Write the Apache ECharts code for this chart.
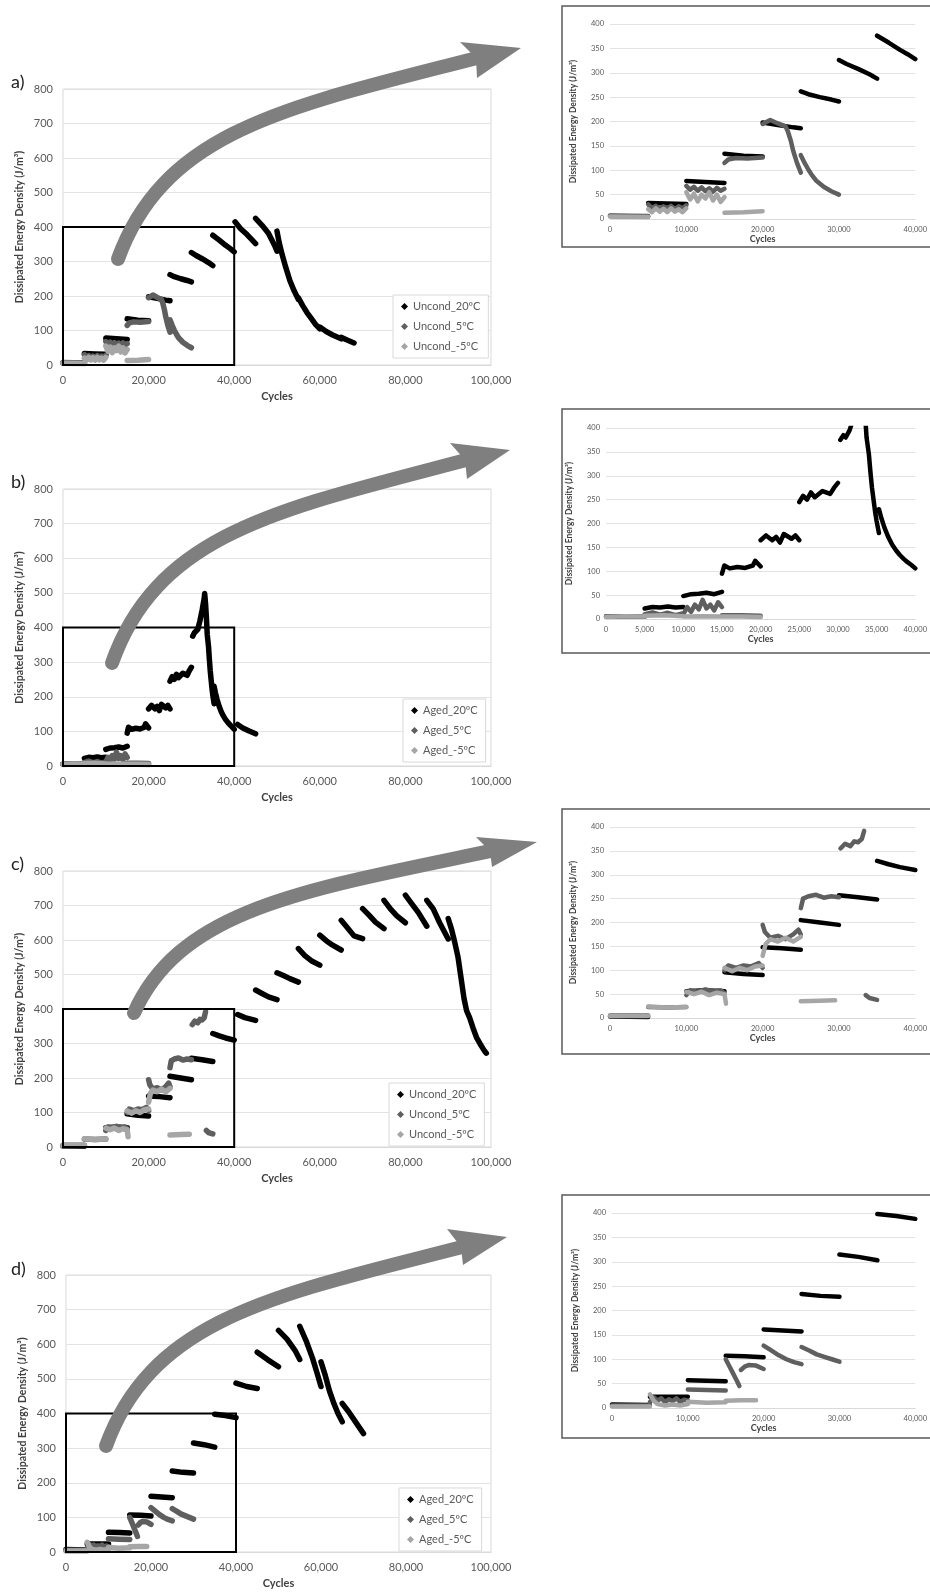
<!DOCTYPE html>
<html lang="en">
<head>
    <meta charset="UTF-8">
    <title>Dissipated Energy Density</title>
    <script src="https://cdn.jsdelivr.net/npm/echarts@6/dist/echarts.min.js"></script>
    <style>
        html, body { margin: 0; padding: 0; background: #fff; }
        #main { width: 930px; height: 1595px; }
    </style>
</head>
<body>
<div id="main"></div>
<script>
    // each series is a list of segments: [cycles, energy]
    var a20 = [
        [[0, 6], [5000, 5]],
        [[5000, 33], [7500, 32], [10000, 31]],
        [[10000, 78], [12500, 76], [15000, 74]],
        [[15000, 134], [17500, 130], [20000, 128]],
        [[20000, 198], [22000, 193], [24000, 188], [25000, 186]],
        [[25000, 262], [26000, 256], [27500, 250], [29000, 245], [30000, 241]],
        [[30000, 326], [31000, 318], [32500, 308], [34000, 297], [35000, 288]],
        [[35000, 376], [36500, 362], [38000, 347], [39000, 338], [40000, 328]],
        [[40200, 415], [41500, 395], [43000, 378], [45000, 352]],
        [[45000, 425], [46500, 405], [48000, 382], [49500, 345], [50000, 330]],
        [[50000, 388], [50500, 355], [51200, 320], [52000, 285], [53000, 245], [54000, 215], [55000, 190]],
        [[55000, 195], [56000, 172], [57000, 152], [58000, 135], [59000, 118], [60000, 105]],
        [[60000, 110], [61500, 97], [63000, 87], [65000, 76]],
        [[65000, 80], [66500, 72], [68000, 64]]
    ];
    var a5 = [
        [[0, 7], [5000, 6]],
        [[5000, 30], [5500, 22], [6000, 27], [6500, 20], [7000, 26], [7500, 21], [8000, 27], [8500, 20], [9000, 26], [9500, 22], [10000, 28]],
        [[10000, 68], [10500, 60], [11000, 66], [11500, 58], [12000, 65], [12500, 57], [13000, 63], [13500, 56], [14000, 64], [14500, 58], [15000, 62]],
        [[15000, 115], [15500, 122], [16500, 125], [18000, 124], [20000, 126]],
        [[20000, 195], [21000, 203], [22000, 196], [23000, 190], [23300, 180], [23700, 160], [24000, 140], [24500, 115], [25000, 95]],
        [[25000, 131], [25500, 115], [26000, 101], [26500, 89], [27000, 79], [28000, 66], [29000, 57], [30000, 50]]
    ];
    var aM5 = [
        [[0, 5], [5000, 4]],
        [[5000, 20], [5500, 14], [6000, 22], [6500, 15], [7000, 21], [7500, 14], [8000, 22], [8500, 15], [9000, 20], [9500, 14], [10000, 22]],
        [[10000, 55], [10500, 40], [11000, 52], [11500, 36], [12000, 50], [12500, 42], [13000, 55], [13500, 38], [14000, 50], [14500, 35], [15000, 45]],
        [[15000, 13], [17500, 14], [20000, 16]]
    ];

    var b20 = [
        [[0, 5], [5000, 5]],
        [[5000, 22], [6000, 25], [7000, 24], [8000, 26], [9000, 24], [10000, 25]],
        [[10000, 48], [11000, 52], [12000, 53], [13000, 55], [14000, 52], [15000, 57]],
        [[15000, 95], [15300, 112], [16000, 106], [17000, 109], [18000, 107], [19000, 112], [19300, 122], [20000, 110]],
        [[20000, 165], [20700, 175], [21500, 165], [22000, 172], [22500, 160], [23000, 178], [24000, 168], [24500, 175], [25000, 165]],
        [[25000, 245], [25500, 258], [26000, 250], [26500, 265], [27000, 255], [28000, 268], [29000, 262], [29500, 275], [30000, 285]],
        [[30300, 375], [30700, 385], [31000, 380], [31500, 395], [32000, 420], [32500, 450], [33000, 485], [33100, 498], [33300, 470], [33500, 430], [33700, 380], [34000, 345], [34200, 308], [34400, 275], [34600, 250], [34800, 225], [35000, 205], [35300, 180]],
        [[35300, 230], [35600, 212], [36000, 192], [36500, 172], [37000, 156], [37500, 144], [38000, 134], [38500, 126], [39000, 119], [39500, 113], [40000, 106]],
        [[40800, 120], [42000, 110], [43500, 101], [45000, 93]]
    ];
    var b5 = [
        [[0, 6], [5000, 5]],
        [[5000, 10], [6000, 14], [7000, 9], [8000, 13], [9000, 8], [10000, 12]],
        [[10000, 10], [10500, 25], [11000, 15], [11500, 30], [12000, 20], [12500, 40], [13000, 22], [13500, 30], [14000, 18], [14500, 35], [15000, 25]],
        [[15000, 8], [17500, 8], [20000, 7]]
    ];
    var bM5 = [
        [[0, 4], [2500, 6], [5000, 5]],
        [[5000, 7], [7500, 8], [10000, 6]],
        [[10000, 5], [12500, 6], [15000, 5]],
        [[15000, 5], [17500, 5], [20000, 4]]
    ];

    var c20 = [
        [[0, 3], [5000, 2]],
        [[10000, 56], [12500, 58], [15000, 56]],
        [[15000, 96], [17500, 92], [20000, 90]],
        [[20000, 148], [22500, 146], [25000, 143]],
        [[25000, 205], [27500, 200], [30000, 195]],
        [[30000, 257], [32500, 253], [35000, 248]],
        [[35000, 329], [36500, 322], [38000, 316], [40000, 310]],
        [[40800, 384], [42500, 375], [45000, 367]],
        [[45000, 455], [46500, 445], [48000, 435], [50000, 427]],
        [[50000, 505], [51500, 497], [53000, 488], [55000, 478]],
        [[55000, 575], [56500, 555], [58000, 540], [60000, 527]],
        [[60000, 614], [61500, 598], [63000, 585], [65000, 571]],
        [[65000, 657], [66500, 635], [68000, 612], [70000, 604]],
        [[70000, 691], [71500, 672], [73000, 652], [75000, 633]],
        [[75000, 715], [76500, 690], [78000, 670], [80000, 650]],
        [[80000, 730], [81500, 705], [83000, 680], [85000, 640]],
        [[85000, 715], [86500, 690], [88000, 650], [90000, 603]],
        [[90000, 662], [90800, 630], [91500, 595], [92300, 550], [93000, 490], [93700, 430], [94300, 395], [95000, 375], [95800, 345], [96600, 318], [97500, 298], [98500, 278], [98900, 272]]
    ];
    var c5 = [
        [[0, 5], [5000, 5]],
        [[5000, 23], [7500, 22], [10000, 23]],
        [[10000, 48], [10500, 58], [11500, 55], [12500, 60], [13500, 56], [14500, 58], [15000, 52]],
        [[15000, 100], [15500, 110], [16500, 105], [17500, 110], [18500, 108], [19500, 115], [20000, 105]],
        [[20000, 195], [20300, 180], [21000, 168], [22000, 172], [23000, 165], [24000, 175], [24700, 185], [25000, 175]],
        [[25000, 230], [25300, 250], [26000, 255], [27000, 258], [28000, 252], [29000, 255], [30000, 253]],
        [[30200, 355], [30800, 365], [31500, 360], [32000, 370], [32500, 368], [33000, 375], [33300, 392]],
        [[33500, 48], [34000, 42], [35000, 38]]
    ];
    var cM5 = [
        [[0, 4], [5000, 4]],
        [[5000, 24], [7500, 22], [10000, 23]],
        [[10000, 55], [11000, 50], [12000, 55], [13000, 48], [14000, 53], [15000, 50], [15200, 30]],
        [[15000, 105], [16000, 98], [17000, 105], [18000, 100], [19000, 108], [20000, 110]],
        [[20000, 130], [20400, 155], [21000, 165], [22000, 160], [23000, 168], [24000, 160], [25000, 170]],
        [[25000, 35], [27500, 36], [29500, 37]]
    ];

    var d20 = [
        [[0, 7], [5000, 6]],
        [[5000, 23], [7500, 23], [10000, 23]],
        [[10000, 57], [12500, 56], [15000, 55]],
        [[15000, 107], [17500, 106], [20000, 104]],
        [[20000, 161], [22500, 159], [25000, 157]],
        [[25000, 234], [27500, 230], [30000, 228]],
        [[30000, 315], [32500, 310], [35000, 303]],
        [[35000, 398], [37500, 394], [40000, 388]],
        [[40000, 488], [42500, 478], [45000, 472]],
        [[45000, 577], [47500, 555], [50000, 535]],
        [[50000, 640], [52000, 615], [54000, 580], [55000, 556]],
        [[55000, 652], [56500, 610], [58000, 560], [59000, 520], [60000, 478]],
        [[60000, 549], [61000, 510], [62000, 465], [63000, 430], [64000, 400], [65000, 376]],
        [[65000, 429], [66500, 405], [68000, 378], [70000, 342]]
    ];
    var d5 = [
        [[0, 5], [5000, 5]],
        [[5000, 12], [5500, 22], [6000, 15], [6500, 20], [7000, 12], [7500, 18], [8000, 14], [8500, 20], [9000, 12], [9500, 17], [10000, 15]],
        [[10000, 38], [12500, 37], [15000, 36]],
        [[15000, 100], [15500, 85], [16000, 70], [16500, 55], [16800, 45]],
        [[17000, 78], [17500, 85], [18000, 88], [19000, 87], [20000, 80]],
        [[20000, 128], [21000, 118], [22000, 108], [23000, 100], [24000, 94], [25000, 90]],
        [[25000, 125], [26000, 118], [27000, 110], [28000, 105], [29000, 100], [30000, 95]]
    ];
    var dM5 = [
        [[0, 3], [5000, 3]],
        [[5000, 28], [5500, 15], [6000, 8], [7000, 5], [8000, 7], [9000, 5], [10000, 8]],
        [[10000, 13], [12500, 11], [15000, 12]],
        [[15000, 15], [17000, 16], [19000, 16]]
    ];

    var unCondNames = ['Uncond_20ºC', 'Uncond_5ºC', 'Uncond_-5ºC'];
    var agedNames = ['Aged_20ºC', 'Aged_5ºC', 'Aged_-5ºC'];
    var colors = ['#000000', '#5f5f5f', '#a6a6a6'];
    var yTitle = 'Dissipated Energy Density (J/m³)';
    var font = 'Lato, "Open Sans", sans-serif';

    // layout of the four rows
    var panels = [
        { letter: 'a)', names: unCondNames, data: [a20, a5, aM5], step: 10000,
          main: { left: 63, top: 89, width: 428, height: 276 },
          inset: { left: 610, top: 24, width: 309, height: 195 },
          box: [562, 6, 241], legend: [393, 295], letterPos: [11, 73],
          arrow: { p0: [118, 259], tip: [521, 48], up: [460, 42], low: [477, 78], notch: [476, 58] } },
        { letter: 'b)', names: agedNames, data: [b20, b5, bM5], step: 5000,
          main: { left: 63, top: 489, width: 428, height: 277 },
          inset: { left: 606, top: 428, width: 313, height: 191 },
          box: [562, 409, 244], legend: [403, 699], letterPos: [11, 473],
          arrow: { p0: [112, 663], tip: [510, 450], up: [450, 443], low: [467, 479], notch: [465, 460] } },
        { letter: 'c)', names: unCondNames, data: [c20, c5, cM5], step: 10000,
          main: { left: 63, top: 871, width: 428, height: 276 },
          inset: { left: 610, top: 827, width: 309, height: 191 },
          box: [562, 809, 245], legend: [389, 1083], letterPos: [11, 855],
          arrow: { p0: [134, 1013], tip: [537, 842], up: [476, 837], low: [492, 867], notch: [490, 851] } },
        { letter: 'd)', names: agedNames, data: [d20, d5, dM5], step: 10000,
          main: { left: 66, top: 1275, width: 425, height: 277 },
          inset: { left: 612, top: 1213, width: 307, height: 195 },
          box: [562, 1195, 243], legend: [399, 1488], letterPos: [11, 1260],
          arrow: { p0: [106, 1446], tip: [507, 1237], up: [447, 1229], low: [463, 1265], notch: [461, 1247] } }
    ];

    function joinSegs(segs) {
        var out = [];
        segs.forEach(function (s, i) {
            if (i > 0) out.push([s[0][0], '-']);
            out.push.apply(out, s);
        });
        return out;
    }

    function thousands(v) {
        return String(v).replace(/\B(?=(\d{3})+(?!\d))/g, ',');
    }

    var grids = [], xAxes = [], yAxes = [], series = [], legends = [], graphics = [];

    panels.forEach(function (p, i) {
        var mi = i * 2, ii = i * 2 + 1;
        grids.push({ left: p.main.left, top: p.main.top, width: p.main.width, height: p.main.height,
            show: true, borderColor: '#d9d9d9', borderWidth: 1, backgroundColor: '#fff' });
        grids.push({ left: p.inset.left, top: p.inset.top, width: p.inset.width, height: p.inset.height });

        xAxes.push({ type: 'value', gridIndex: mi, min: 0, max: 100000, interval: 20000,
            name: 'Cycles', nameLocation: 'middle', nameGap: 26,
            nameTextStyle: { fontFamily: font, fontSize: 11, fontWeight: 'bold', color: '#404040' },
            axisLine: { lineStyle: { color: '#d9d9d9' } }, axisTick: { show: false },
            splitLine: { show: false },
            axisLabel: { fontFamily: font, fontSize: 11, color: '#595959', margin: 10, formatter: thousands } });
        xAxes.push({ type: 'value', gridIndex: ii, min: 0, max: 40000, interval: p.step,
            name: 'Cycles', nameLocation: 'middle', nameGap: 15,
            nameTextStyle: { fontFamily: font, fontSize: 9, fontWeight: 'bold', color: '#404040' },
            axisLine: { lineStyle: { color: '#d9d9d9' } }, axisTick: { show: false },
            splitLine: { show: false },
            axisLabel: { fontFamily: font, fontSize: 7.5, color: '#595959', margin: 7, formatter: thousands } });

        yAxes.push({ type: 'value', gridIndex: mi, min: 0, max: 800, interval: 100,
            name: yTitle, nameLocation: 'middle', nameGap: 38,
            nameTextStyle: { fontFamily: font, fontSize: 10.5, fontWeight: 'bold', color: '#404040' },
            axisLine: { show: false }, axisTick: { show: false },
            splitLine: { lineStyle: { color: '#e3e3e3' } },
            axisLabel: { fontFamily: font, fontSize: 11, color: '#595959', margin: 10 } });
        yAxes.push({ type: 'value', gridIndex: ii, min: 0, max: 400, interval: 50,
            name: yTitle, nameLocation: 'middle', nameGap: 32,
            nameTextStyle: { fontFamily: font, fontSize: 8.5, fontWeight: 'bold', color: '#404040' },
            axisLine: { show: false }, axisTick: { show: false },
            splitLine: { lineStyle: { color: '#e3e3e3' } },
            axisLabel: { fontFamily: font, fontSize: 7.5, color: '#595959', margin: 6 } });

        // black first, greys over it, as in the workbook order
        p.data.forEach(function (segs, k) {
            var d = joinSegs(segs);
            var s = { name: p.names[k], type: 'line', xAxisIndex: mi, yAxisIndex: mi, data: d,
                showSymbol: false, symbol: 'diamond', connectNulls: false, z: 3 + k,
                itemStyle: { color: colors[k] },
                lineStyle: { color: colors[k], width: 5.5, join: 'round', cap: 'round' } };
            if (k === 0) {
                s.markArea = { silent: true, z: 10,
                    itemStyle: { color: 'rgba(0,0,0,0)', borderColor: '#000', borderWidth: 2 },
                    data: [[{ coord: [0, 0] }, { coord: [40000, 400] }]] };
            }
            series.push(s);
            series.push({ name: p.names[k], type: 'line', xAxisIndex: ii, yAxisIndex: ii, data: d,
                showSymbol: false, symbol: 'diamond', connectNulls: false, clip: true, z: 3 + k,
                itemStyle: { color: colors[k] },
                lineStyle: { color: colors[k], width: 4.5, join: 'round', cap: 'round' } });
        });

        legends.push({ data: p.names, orient: 'vertical', left: p.legend[0], top: p.legend[1],
            icon: 'diamond', itemWidth: 7, itemHeight: 7, itemGap: 9, padding: [6, 8],
            borderColor: '#d9d9d9', borderWidth: 1, backgroundColor: '#fff', selectedMode: false,
            textStyle: { fontFamily: font, fontSize: 11, color: '#595959' } });

        // panel letter and inset frame
        graphics.push({ type: 'text', left: p.letterPos[0], top: p.letterPos[1], z: 100,
            style: { text: p.letter, font: '18px ' + font, fill: '#222' } });
        graphics.push({ type: 'rect', z: 100,
            shape: { x: p.box[0], y: p.box[1], width: 400, height: p.box[2] },
            style: { fill: null, stroke: '#595959', lineWidth: 1.5 } });

        // big gray arrow from the zoom box to the inset
        var a = p.arrow;
        var end = [a.notch[0] + 0.15 * (a.tip[0] - a.notch[0]), a.notch[1] + 0.15 * (a.tip[1] - a.notch[1])];
        var dx = end[0] - a.p0[0], dy = end[1] - a.p0[1];
        graphics.push({ type: 'bezierCurve', z: 100,
            shape: { x1: a.p0[0], y1: a.p0[1], x2: end[0], y2: end[1],
                cpx1: a.p0[0] + 0.13 * dx, cpy1: a.p0[1] + 0.647 * dy,
                cpx2: a.p0[0] + 0.478 * dx, cpy2: a.p0[1] + 0.756 * dy },
            style: { fill: null, stroke: '#7f7f7f', lineWidth: 14, lineCap: 'round' } });
        graphics.push({ type: 'polygon', z: 101,
            shape: { points: [a.tip, a.up, a.notch, a.low] },
            style: { fill: '#7f7f7f' } });
    });

    var chartDom = document.getElementById('main');
    var myChart = echarts.init(chartDom);
    var option = {
        backgroundColor: '#fff',
        animation: false,
        grid: grids,
        xAxis: xAxes,
        yAxis: yAxes,
        legend: legends,
        series: series,
        graphic: graphics
    };
    myChart.setOption(option);
</script>
</body>
</html>
